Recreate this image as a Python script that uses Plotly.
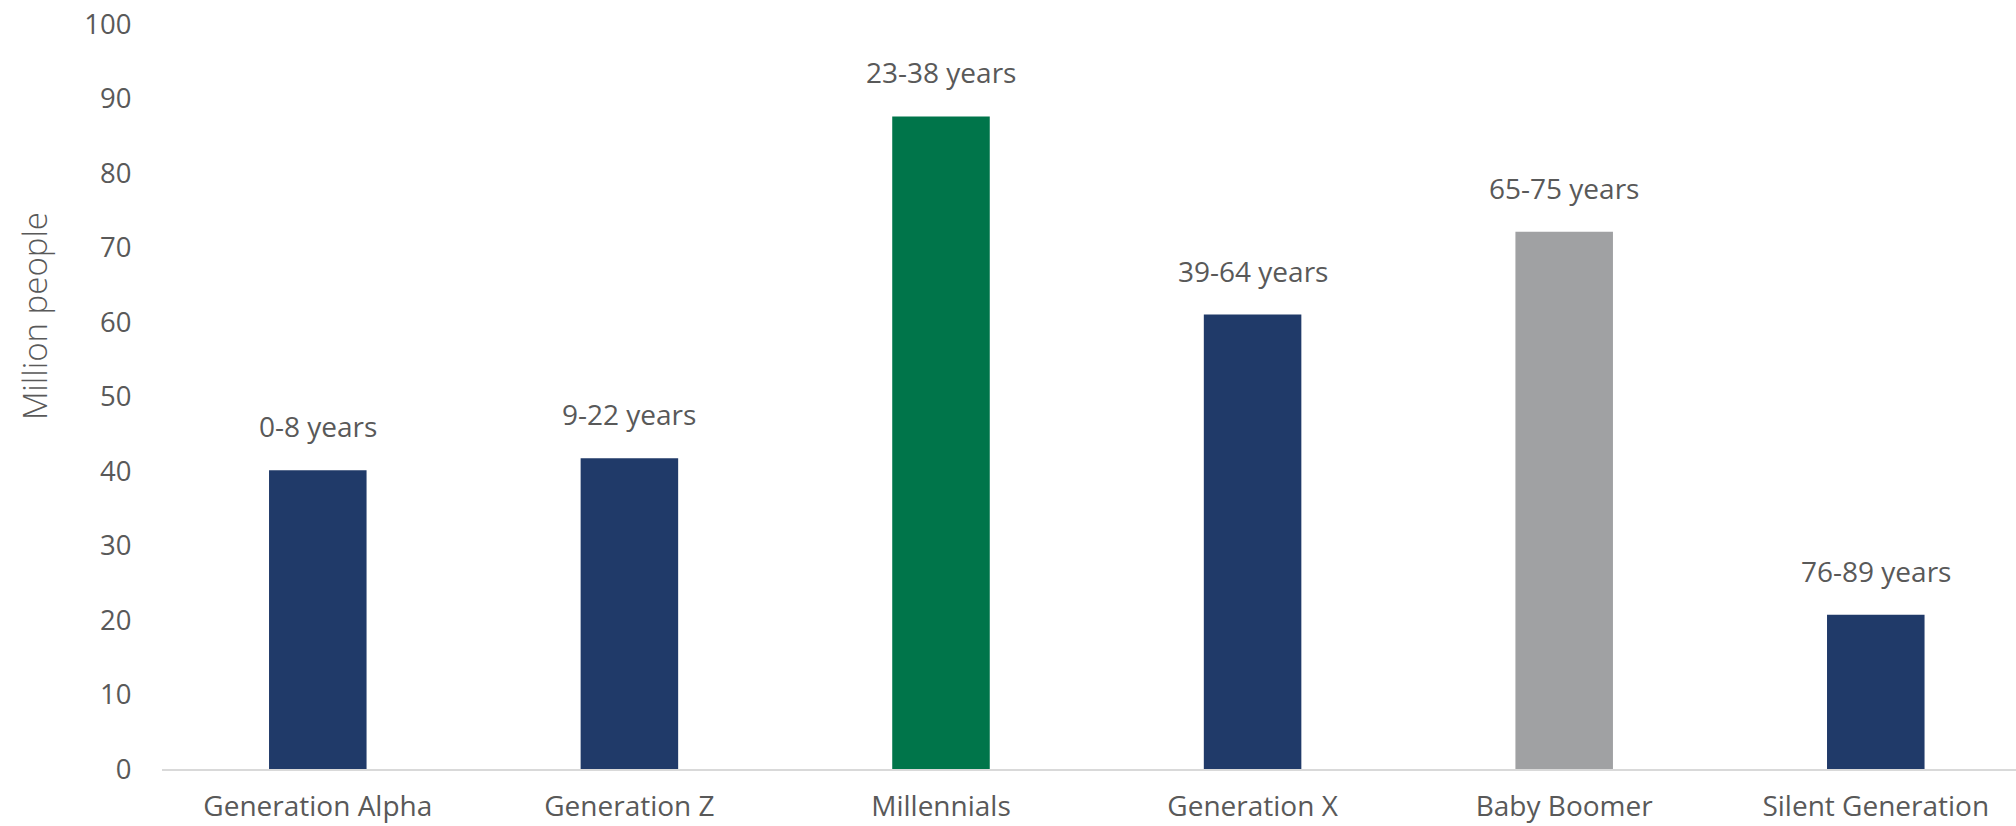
import plotly.graph_objects as go

categories = ["Generation Alpha", "Generation Z", "Millennials", "Generation X", "Baby Boomer", "Silent Generation"]
values = [40.1, 41.7, 87.6, 61.0, 72.1, 20.7]
age_labels = ["0-8 years", "9-22 years", "23-38 years", "39-64 years", "65-75 years", "76-89 years"]
bar_colors = ["#203A69", "#203A69", "#00754A", "#203A69", "#A0A1A3", "#203A69"]
y_ticks = list(range(0, 101, 10))

FONT = "Open Sans"
TEXT = "#595959"

fig = go.Figure()
fig.add_trace(go.Bar(
    x=categories, y=values, marker=dict(color=bar_colors, line=dict(width=0)),
    width=0.313, hoverinfo="skip",
))

for c, v, t in zip(categories, values, age_labels):
    fig.add_annotation(x=c, y=v, text=t, showarrow=False, yshift=44,
                       font=dict(family=FONT, size=28, color=TEXT))

fig.add_annotation(xref="paper", yref="y", x=-0.069, y=60.8, text="Million people",
                   textangle=-90, showarrow=False, xanchor="center", yanchor="middle",
                   font=dict(family=FONT, size=33, color=TEXT, weight=300))

fig.update_layout(
    width=2016, height=826,
    margin=dict(l=162, r=0, t=24, b=57),
    paper_bgcolor="white", plot_bgcolor="white",
    showlegend=False,
    font=dict(family=FONT, size=28, color=TEXT),
    xaxis=dict(range=[-0.5, 5.45], showline=True, linecolor="#D9D9D9", linewidth=2,
               showgrid=False, zeroline=False, ticks="outside", ticklen=11,
               tickcolor="rgba(0,0,0,0)", automargin=False,
               tickfont=dict(family=FONT, size=28, color=TEXT)),
    yaxis=dict(range=[0, 100], tickvals=y_ticks, showgrid=False, zeroline=False,
               showline=False, ticks="outside", ticklen=24, tickcolor="rgba(0,0,0,0)",
               automargin=False, tickfont=dict(family=FONT, size=27.5, color=TEXT)),
)

fig.write_html("out.html")
